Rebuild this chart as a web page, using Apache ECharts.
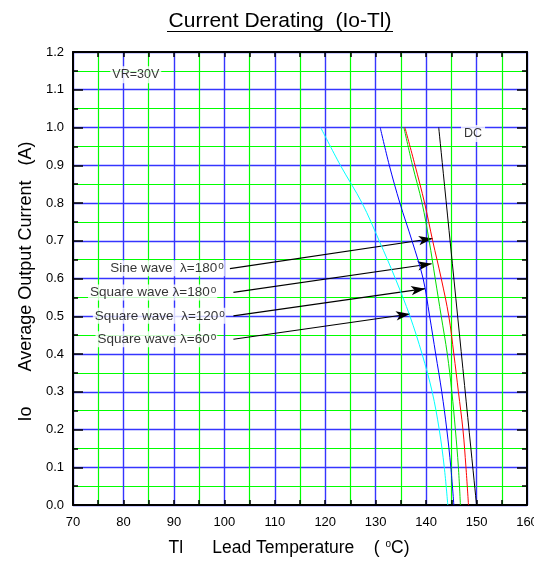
<!DOCTYPE html>
<html><head><meta charset="utf-8">
<script src="https://cdn.jsdelivr.net/npm/echarts@6/dist/echarts.min.js"></script>
<style>html,body{margin:0;padding:0;background:#fff}#c{width:534px;height:564px}</style>
</head><body><div id="c"></div>
<script>
const FONT = '"Liberation Sans", Arial, sans-serif';

// Axis ranges / tick steps
const xRange = [70, 160];
const xStep = 10;
const yRange = [0, 1.2];
const yStep = 0.1;

// Curves: [lead temperature (°C), average output current (A)]
const dcCurve = [[142.5, 1.0], [150.0, 0.0]];
const sine180 = [[135.8, 1.0], [137.8, 0.9], [139.7, 0.8], [141.3, 0.7], [143.0, 0.6], [144.5, 0.5], [145.5, 0.4], [146.4, 0.3], [147.3, 0.2], [147.9, 0.1], [148.4, 0.0]];
const square180 = [[135.6, 1.0], [137.3, 0.9], [139.2, 0.8], [140.6, 0.7], [141.8, 0.6], [143.0, 0.5], [144.2, 0.4], [145.1, 0.3], [145.8, 0.2], [146.4, 0.1], [146.8, 0.0]];
const square120 = [[130.9, 1.0], [132.7, 0.9], [134.8, 0.8], [137.2, 0.7], [139.4, 0.6], [140.7, 0.5], [141.9, 0.4], [143.1, 0.3], [144.1, 0.2], [144.9, 0.1], [145.5, 0.0]];
const square60 = [[119.1, 1.0], [123.0, 0.9], [127.3, 0.8], [130.7, 0.7], [133.9, 0.6], [136.8, 0.5], [139.2, 0.4], [141.2, 0.3], [142.6, 0.2], [143.6, 0.1], [144.3, 0.0]];

// Annotations
const annTexts = ['Sine wave  λ=180', 'Square wave λ=180', 'Square wave  λ=120', 'Square wave λ=60'];
const annAnchors = [[100.1, 0.627], [98.6, 0.563], [100.3, 0.501], [98.6, 0.439]];
const arrowFrom = [[101.1, 0.626], [101.8, 0.563], [101.8, 0.501], [101.8, 0.439]];
const arrowTo = [[141.3, 0.706], [141.1, 0.639], [139.8, 0.573], [136.8, 0.506]];
const vrText = 'VR=30V';
const vrAnchor = [77.4, 1.14];
const dcText = 'DC';
const dcAnchor = [149.3, 0.984];

const titleText = 'Current Derating  (Io-Tl)';
const xName = 'Tl      Lead Temperature    ( {sup|o}C)';
const yName = 'Io       Average Output Current   (A)';

const supStyle = { fontSize: 10, fontFamily: FONT, color: '#000', verticalAlign: 'top', lineHeight: 4, padding: [0, 0, 0, 1] };

const chart = echarts.init(document.getElementById('c'), null, { renderer: 'canvas' });

const BLUE = '#3535ff';
const GREEN = '#00ff00';

function frameAxisX(pos, isMain) {
  return {
    type: 'value', position: pos, min: xRange[0], max: xRange[1], interval: xStep,
    axisLine: { show: true, onZero: false, lineStyle: { color: '#000', width: 2 } },
    axisTick: { show: true, inside: true, length: 5, lineStyle: { color: '#000', width: 1.5 } },
    minorTick: { show: true, splitNumber: 2, length: 5, lineStyle: { color: '#000', width: 1.5 } },
    axisLabel: isMain ? { show: true, color: '#000', fontSize: 13, fontFamily: FONT, margin: 11 } : { show: false },
    splitLine: isMain ? { show: true, lineStyle: { color: BLUE, width: 1.4 } } : { show: false },
    minorSplitLine: isMain ? { show: true, lineStyle: { color: GREEN, width: 1.2 } } : { show: false },
    name: isMain ? xName : '',
    nameLocation: 'middle', nameGap: 34,
    nameTextStyle: { fontSize: 17.5, fontFamily: FONT, color: '#000', padding: [0, 22, 0, 0], rich: { sup: supStyle } }
  };
}
function frameAxisY(pos, isMain) {
  return {
    type: 'value', position: pos, min: yRange[0], max: yRange[1], interval: yStep,
    axisLine: { show: true, onZero: false, lineStyle: { color: '#000', width: 2 } },
    axisTick: { show: true, inside: true, length: 10, lineStyle: { color: '#000', width: 1.5 } },
    minorTick: { show: true, splitNumber: 2, length: 5, lineStyle: { color: '#000', width: 1.5 } },
    axisLabel: isMain ? { show: true, color: '#000', fontSize: 13, fontFamily: FONT, margin: 9, formatter: v => v.toFixed(1) } : { show: false },
    splitLine: isMain ? { show: true, lineStyle: { color: BLUE, width: 1.4 } } : { show: false },
    minorSplitLine: isMain ? { show: true, lineStyle: { color: GREEN, width: 1.2 } } : { show: false },
    name: isMain ? yName : '',
    nameLocation: 'middle', nameGap: 38,
    nameTextStyle: { fontSize: 18, fontFamily: FONT, color: '#000', padding: [0, 6, 0, 0] }
  };
}

function curve(name, data, color) {
  return { name, type: 'line', data, xAxisIndex: 0, yAxisIndex: 0, smooth: 0.35, showSymbol: false, symbol: 'none',
    lineStyle: { color, width: 1 }, z: 5, silent: true, animation: false };
}

const textSeries = {
  type: 'scatter', xAxisIndex: 0, yAxisIndex: 0, symbolSize: 0, silent: true, animation: false, z: 8,
  data: [
    ...annTexts.map((t, i) => ({ value: annAnchors[i], label: { show: true, position: [0, 0], align: 'right', verticalAlign: 'middle',
      formatter: t + '{sup|o}', fontSize: 13.5, fontFamily: FONT, color: '#000', backgroundColor: '#fff', padding: [1, 1, 1, 2],
      rich: { sup: supStyle } } })),
    { value: vrAnchor, label: { show: true, position: [0, 0], align: 'left', verticalAlign: 'middle', formatter: vrText,
      fontSize: 12.5, fontFamily: FONT, color: '#000', backgroundColor: '#fff', padding: [2, 2] } },
    { value: dcAnchor, label: { show: true, position: [0, 0], align: 'center', verticalAlign: 'middle', formatter: dcText,
      fontSize: 12.5, fontFamily: FONT, color: '#000', backgroundColor: '#fff', padding: [2, 3] } }
  ]
};

const arrowSeries = {
  type: 'line', xAxisIndex: 0, yAxisIndex: 0, data: [], silent: true, animation: false, z: 9,
  markLine: {
    silent: true, animation: false, symbol: ['none', 'arrow'], symbolSize: [7, 14],
    label: { show: false },
    lineStyle: { color: '#000', width: 1.2, type: 'solid' },
    data: arrowFrom.map((p, i) => [{ coord: p }, { coord: arrowTo[i] }])
  }
};

chart.setOption({
  animation: false,
  backgroundColor: '#fff',
  grid: { left: 73, right: 7, top: 52, bottom: 59, containLabel: false, outerBoundsMode: 'none' },
  xAxis: [frameAxisX('bottom', true), frameAxisX('top', false)],
  yAxis: [frameAxisY('left', true), frameAxisY('right', false)],
  graphic: [
    { type: 'text', x: 280, y: 21, style: { text: titleText, fontSize: 21, fontFamily: FONT, fill: '#000', align: 'center', verticalAlign: 'middle' } },
    { type: 'line', shape: { x1: 167, y1: 31.5, x2: 393, y2: 31.5 }, style: { stroke: '#000', lineWidth: 1 } }
  ],
  series: [
    curve('Square wave λ=60°', square60, '#00ffff'),
    curve('Square wave λ=120°', square120, '#0000ff'),
    curve('Square wave λ=180°', square180, '#00dd00'),
    curve('Sine wave λ=180°', sine180, '#ff0000'),
    curve('DC', dcCurve, '#000000'),
    arrowSeries,
    textSeries
  ]
});
</script></body></html>
